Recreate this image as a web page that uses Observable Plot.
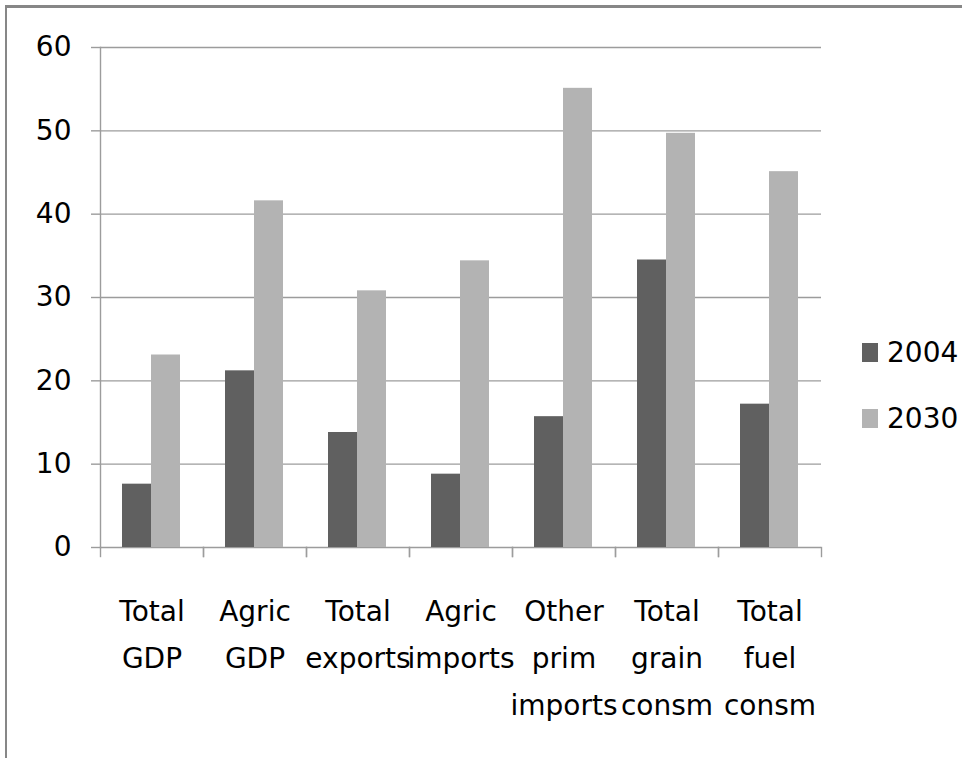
<!DOCTYPE html>
<html>
<head>
<meta charset="utf-8">
<script src="https://cdn.jsdelivr.net/npm/d3@7"></script>
<script src="https://cdn.jsdelivr.net/npm/@observablehq/plot@0.6"></script>
<style>
  html, body { margin: 0; padding: 0; background: #fff; }
  body { position: relative; width: 962px; height: 758px; overflow: hidden;
         font-family: "DejaVu Sans", sans-serif; }
  #border { position: absolute; left: 5px; top: 5px; width: 957px; height: 753px;
            border-top: 3px solid #878787; border-left: 2px solid #878787; box-sizing: border-box; }
  #chart { position: absolute; left: 0; top: 0; }
  #legend { position: absolute; left: 862px; top: 338px; }
  .item { display: flex; align-items: center; height: 28px; margin-bottom: 38px; font-size: 28px; color: #000; }
  .sw { width: 16px; height: 19px; margin-right: 9px; }
</style>
</head>
<body>
<div id="border"></div>
<div id="chart"></div>
<div id="legend"></div>
<script>
const categories = ["Total GDP", "Agric GDP", "Total exports", "Agric imports", "Other prim imports", "Total grain consm", "Total fuel consm"];
const categoryLabels = ["Total\nGDP", "Agric\nGDP", "Total\nexports", "Agric\nimports", "Other\nprim\nimports", "Total\ngrain\nconsm", "Total\nfuel\nconsm"];
const seriesNames = ["2004", "2030"];
const values2004 = [7.6, 21.2, 13.8, 8.8, 15.7, 34.5, 17.2];
const values2030 = [23.1, 41.6, 30.8, 34.4, 55.1, 49.7, 45.1];
const yTicks = [0, 10, 20, 30, 40, 50, 60];
const seriesColors = ["#606060", "#b3b3b3"];

const table = [];
categories.forEach((c, i) => {
  table.push({category: c, series: seriesNames[0], value: values2004[i]});
  table.push({category: c, series: seriesNames[1], value: values2030[i]});
});
const labelRows = categories.map((c, i) => ({category: c, label: categoryLabels[i]}));

const W = 962, H = 758, mL = 97, mR = 139, mT = 47, mB = 211;
const plotH = H - mT - mB;
const gridColor = "#9c9c9c";
const font = "'DejaVu Sans', sans-serif";

const chart = Plot.plot({
  width: W, height: H,
  marginLeft: mL, marginRight: mR, marginTop: mT, marginBottom: mB,
  style: {fontFamily: font, fontSize: "28px", color: "#000", background: "transparent"},
  fx: {domain: categories, padding: 0, axis: null},
  x: {domain: seriesNames, paddingInner: 0, paddingOuter: 0.77, align: 0.48, axis: null},
  y: {domain: [0, 60], axis: null},
  color: {domain: seriesNames, range: seriesColors},
  marks: [
    Plot.ruleY(yTicks, {stroke: gridColor, strokeWidth: 1.4}),
    Plot.frame({anchor: "left", facetAnchor: "left", stroke: gridColor, strokeWidth: 1.4}),
    Plot.frame({anchor: "left", insetTop: plotH, insetBottom: -9, stroke: gridColor, strokeWidth: 1.4}),
    Plot.frame({anchor: "right", insetTop: plotH, insetBottom: -9, stroke: gridColor, strokeWidth: 1.4}),
    Plot.axisY({ticks: yTicks, tickSize: 9, tickPadding: 20, stroke: gridColor, strokeWidth: 1.4, fontSize: 28, label: null, fill: "#000"}),
    Plot.barY(table, {fx: "category", x: "series", y: "value", fill: "series"}),
    Plot.text(labelRows, {fx: "category", text: "label", frameAnchor: "bottom", lineAnchor: "top", dy: 40, fontSize: 28, lineHeight: 1.68, fill: "#000"})
  ]
});
document.getElementById("chart").appendChild(chart);

const legend = document.getElementById("legend");
seriesNames.forEach((s, i) => {
  const item = document.createElement("div");
  item.className = "item";
  const sw = document.createElement("div");
  sw.className = "sw";
  sw.style.background = seriesColors[i];
  const t = document.createElement("span");
  t.textContent = s;
  item.appendChild(sw);
  item.appendChild(t);
  legend.appendChild(item);
});
</script>
</body>
</html>
